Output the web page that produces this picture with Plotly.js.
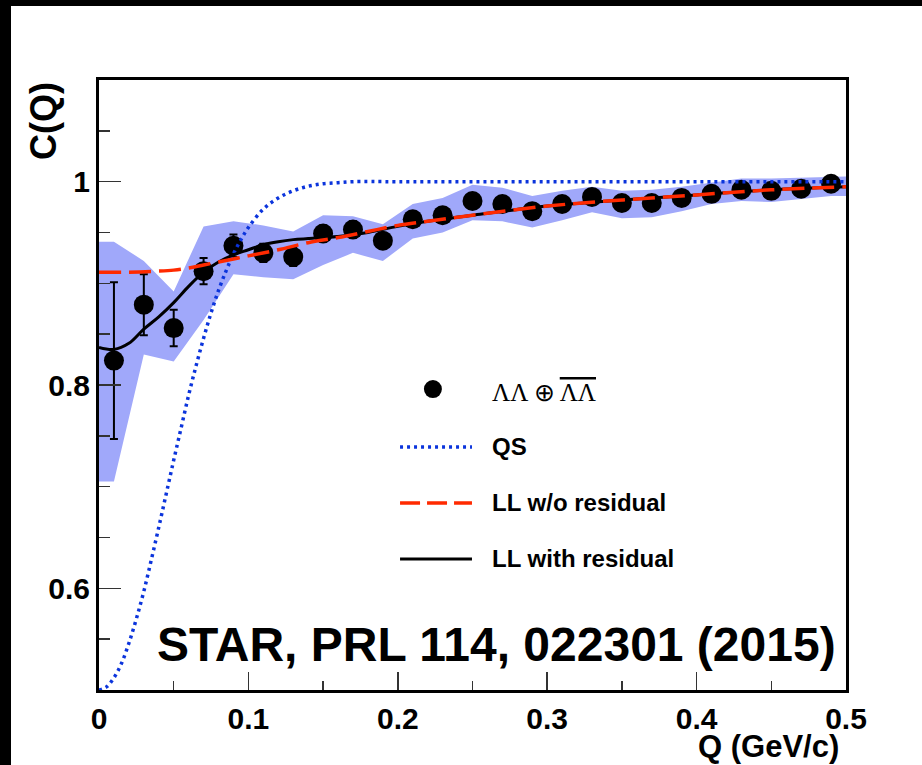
<!DOCTYPE html>
<html>
<head>
<meta charset="utf-8">
<script src="https://cdn.plot.ly/plotly-3.0.1.min.js"></script>
<style>
  html, body { margin: 0; padding: 0; background: #000; width: 922px; height: 765px; overflow: hidden; }
  #chart { position: absolute; left: 11px; top: 6px; width: 911px; height: 759px; background: #fff; }
</style>
</head>
<body>
<div id="chart"></div>
<script>
// ---- data ----
const qPoints = [0.01,0.03,0.05,0.07,0.09,0.11,0.13,0.15,0.17,0.19,0.21,0.23,0.25,0.27,0.29,0.31,0.33,0.35,0.37,0.39,0.41,0.43,0.45,0.47,0.49];
const cValues = [0.824,0.879,0.856,0.912,0.937,0.930,0.926,0.949,0.953,0.942,0.963,0.967,0.981,0.978,0.971,0.978,0.985,0.979,0.979,0.984,0.988,0.992,0.991,0.993,0.998];
const cErrors = [0.077,0.030,0.018,0.013,0.011,0.009,0.009,0.008,0.008,0.007,0.007,0.006,0.006,0.006,0.005,0.005,0.005,0.005,0.005,0.004,0.004,0.004,0.004,0.004,0.004];

// systematic band (edges at 0 and 0.5, then bin centres)
const bandQ     = [0,0.01,0.03,0.05,0.07,0.09,0.11,0.13,0.15,0.17,0.19,0.21,0.23,0.25,0.27,0.29,0.31,0.33,0.35,0.37,0.39,0.41,0.43,0.45,0.47,0.49,0.5];
const bandUpper = [0.941,0.941,0.922,0.892,0.956,0.961,0.957,0.951,0.967,0.966,0.958,0.978,0.984,0.997,0.994,0.986,0.991,0.995,0.991,0.992,0.995,0.999,1.003,1.003,1.004,1.005,1.005];
const bandLower = [0.705,0.705,0.830,0.823,0.864,0.909,0.906,0.904,0.918,0.930,0.922,0.944,0.950,0.962,0.961,0.955,0.962,0.970,0.964,0.965,0.971,0.978,0.981,0.980,0.983,0.986,0.986];

// QS curve
const qsQ = [0,0.005,0.01,0.015,0.02,0.025,0.03,0.035,0.04,0.045,0.05,0.055,0.06,0.065,0.07,0.075,0.08,0.085,0.09,0.095,0.10,0.11,0.12,0.13,0.14,0.15,0.16,0.17,0.2,0.3,0.4,0.5];
const qsC = [0.500,0.503,0.512,0.526,0.546,0.570,0.597,0.628,0.660,0.693,0.726,0.758,0.790,0.819,0.846,0.871,0.893,0.912,0.929,0.943,0.955,0.973,0.984,0.991,0.9955,0.998,0.999,1.0,1.0,1.0,1.0,1.0];

// LL without residual
const llQ  = [0,0.02,0.04,0.05,0.06,0.07,0.08,0.09,0.10,0.12,0.14,0.16,0.18,0.20,0.22,0.25,0.30,0.35,0.40,0.45,0.50];
const llC  = [0.911,0.911,0.912,0.913,0.915,0.918,0.921,0.924,0.927,0.933,0.940,0.945,0.951,0.957,0.961,0.967,0.976,0.982,0.987,0.992,0.995];

// LL with residual
const llrQ = [0,0.01,0.02,0.03,0.04,0.05,0.06,0.07,0.08,0.09,0.10,0.11,0.12,0.13,0.14,0.15,0.16,0.18,0.20,0.22,0.25,0.30,0.35,0.40,0.45,0.50];
const llrC = [0.837,0.835,0.841,0.855,0.867,0.881,0.897,0.911,0.921,0.928,0.933,0.938,0.941,0.943,0.944,0.945,0.946,0.950,0.956,0.961,0.967,0.976,0.982,0.987,0.992,0.995];

const legendLabels = ['ΛΛ ⊕ <span style="text-decoration:overline">ΛΛ</span>', 'QS', 'LL w/o residual', 'LL with residual'];
const footText = 'STAR, PRL 114, 022301 (2015)';

// ---- styles ----
const BAND = 'rgb(160,168,250)';
const BLUE = '#0b34dc';
const RED = '#ff2a00';
const FONT = 'Liberation Sans, Arial, Helvetica, sans-serif';

const traces = [
  {
    x: bandQ.concat(bandQ.slice().reverse()),
    y: bandUpper.concat(bandLower.slice().reverse()),
    type: 'scatter', mode: 'lines', fill: 'toself',
    fillcolor: BAND, line: {width: 0, color: BAND}, hoverinfo: 'skip', showlegend: false
  },
  {
    x: qPoints, y: cValues, type: 'scatter', mode: 'markers',
    marker: {color: '#000', size: 20, symbol: 'circle'},
    error_y: {type: 'data', array: cErrors, visible: true, color: '#000', thickness: 2, width: 4},
    showlegend: false
  },
  {
    x: qsQ, y: qsC, type: 'scatter', mode: 'lines', line: {color: BLUE, width: 3.5, dash: '3px,4px', shape: 'spline'},
    showlegend: false
  },
  {
    x: llrQ, y: llrC, type: 'scatter', mode: 'lines', line: {color: '#000', width: 3, shape: 'spline'},
    showlegend: false
  },
  {
    x: llQ, y: llC, type: 'scatter', mode: 'lines', line: {color: RED, width: 3.5, dash: '22px,8px', shape: 'spline'},
    showlegend: false
  }
];

// legend geometry in paper coordinates
const legX0 = 0.403, legX1 = 0.4993, legTextX = 0.5234;
const legY = [0.4934, 0.3984, 0.3066, 0.2148];

const shapes = [
  {type: 'circle', xref: 'paper', yref: 'paper', xsizemode: 'pixel', ysizemode: 'pixel',
   xanchor: 0.447, yanchor: legY[0], x0: -9, x1: 9, y0: -9, y1: 9,
   fillcolor: '#000', line: {width: 0}},
  {type: 'line', xref: 'paper', yref: 'paper', x0: legX0, x1: legX1, y0: legY[1], y1: legY[1],
   line: {color: BLUE, width: 3.5, dash: '3px,4px'}},
  {type: 'line', xref: 'paper', yref: 'paper', x0: legX0, x1: legX1, y0: legY[2], y1: legY[2],
   line: {color: RED, width: 3.5, dash: '20px,7px'}},
  {type: 'line', xref: 'paper', yref: 'paper', x0: legX0, x1: legX1, y0: legY[3], y1: legY[3],
   line: {color: '#000', width: 3}}
];

const annotations = [
  {xref: 'paper', yref: 'paper', x: legTextX, y: legY[0] - 0.006, xanchor: 'left', yanchor: 'middle', showarrow: false,
   text: legendLabels[0], font: {family: 'Liberation Serif, Times New Roman, serif', size: 25, color: '#000'}},
  {xref: 'paper', yref: 'paper', x: legTextX, y: legY[1], xanchor: 'left', yanchor: 'middle', showarrow: false,
   text: legendLabels[1], font: {family: FONT, size: 24, color: '#000', weight: 'bold'}},
  {xref: 'paper', yref: 'paper', x: legTextX, y: legY[2], xanchor: 'left', yanchor: 'middle', showarrow: false,
   text: legendLabels[2], font: {family: FONT, size: 24, color: '#000', weight: 'bold'}},
  {xref: 'paper', yref: 'paper', x: legTextX, y: legY[3], xanchor: 'left', yanchor: 'middle', showarrow: false,
   text: legendLabels[3], font: {family: FONT, size: 24, color: '#000', weight: 'bold'}},
  {xref: 'paper', yref: 'paper', x: 0.532, y: 0.074, xanchor: 'center', yanchor: 'middle', showarrow: false,
   text: footText, font: {family: FONT, size: 48, color: '#000', weight: 'bold'}},
  {xref: 'paper', yref: 'paper', x: -0.075, y: 1.0, xanchor: 'center', yanchor: 'top', textangle: -90, showarrow: false,
   text: 'C(Q)', font: {family: FONT, size: 36, color: '#000', weight: 'bold'}},
  {xref: 'paper', yref: 'paper', x: 0.9933, y: -0.092, xanchor: 'right', yanchor: 'middle', showarrow: false,
   text: 'Q (GeV/c)', font: {family: FONT, size: 31, color: '#000', weight: 'bold'}}
];

const tickFont = {family: FONT, size: 30, color: '#000', weight: 'bold'};

const layout = {
  width: 911, height: 759,
  margin: {l: 88, r: 76, t: 74, b: 75},
  paper_bgcolor: '#fff', plot_bgcolor: '#fff',
  showlegend: false,
  xaxis: {
    range: [0, 0.5], tick0: 0, dtick: 0.1, ticks: 'inside', ticklen: 18, tickwidth: 1.5, tickcolor: '#333',
    minor: {ticks: 'inside', dtick: 0.05, ticklen: 9, tickwidth: 1.5, tickcolor: '#333'},
    showline: true, linewidth: 3, linecolor: '#000', mirror: true,
    showgrid: false, zeroline: false, tickfont: tickFont, fixedrange: true
  },
  yaxis: {
    range: [0.5, 1.1], tick0: 0, dtick: 0.2, ticks: 'inside', ticklen: 22, tickwidth: 1.5, tickcolor: '#333',
    minor: {ticks: 'inside', dtick: 0.05, ticklen: 11, tickwidth: 1.5, tickcolor: '#333'},
    showline: true, linewidth: 3, linecolor: '#000', mirror: true,
    showgrid: false, zeroline: false, tickfont: tickFont, fixedrange: true
  },
  shapes: shapes,
  annotations: annotations
};

Plotly.newPlot('chart', traces, layout, {staticPlot: true, displayModeBar: false});
</script>
</body>
</html>
